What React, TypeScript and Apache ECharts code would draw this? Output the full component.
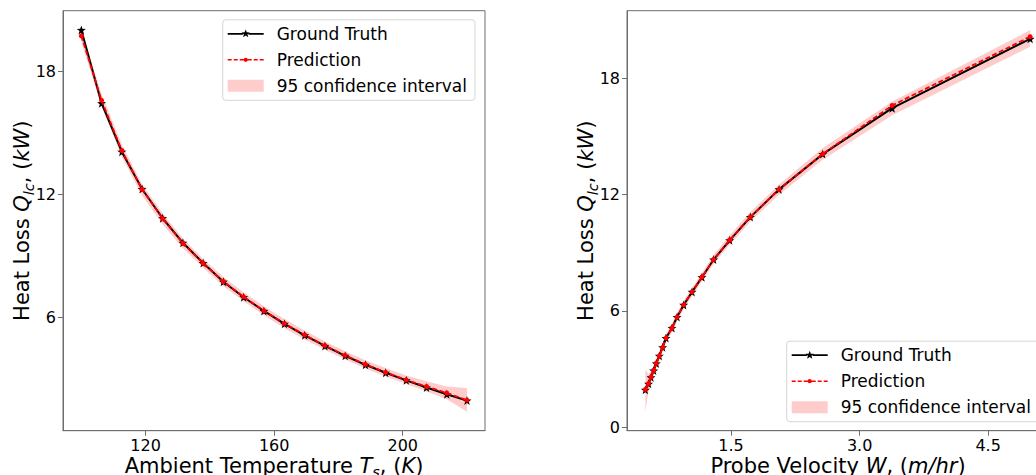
import React, { useEffect, useRef } from "react";
import * as echarts from "echarts";

// ---------- data ----------
const temperature = [100, 106.3, 112.6, 118.9, 125.3, 131.6, 137.9, 144.2, 150.5, 156.8, 163.2, 169.5, 175.8, 182.1, 188.4, 194.7, 201.1, 207.4, 213.7, 220];
const velocity = [4.99, 3.38, 2.57, 2.06, 1.725, 1.484, 1.297, 1.161, 1.045, 0.947, 0.87, 0.811, 0.741, 0.702, 0.663, 0.628, 0.597, 0.566, 0.538, 0.5];
const groundTruth = [20.04, 16.46, 14.09, 12.27, 10.84, 9.64, 8.65, 7.74, 6.98, 6.31, 5.68, 5.12, 4.6, 4.12, 3.68, 3.29, 2.92, 2.57, 2.24, 1.93];
const predLeft = [19.75, 16.6, 14.15, 12.25, 10.82, 9.62, 8.64, 7.75, 7.0, 6.32, 5.7, 5.14, 4.62, 4.14, 3.7, 3.31, 2.94, 2.62, 2.3, 1.95];
const lowerLeft = [19.45, 16.3, 13.85, 11.95, 10.55, 9.38, 8.42, 7.52, 6.78, 6.1, 5.47, 4.92, 4.42, 3.94, 3.5, 3.11, 2.74, 2.38, 2.0, 1.39];
const upperLeft = [20.05, 16.9, 14.45, 12.5, 11.08, 9.86, 8.86, 7.97, 7.22, 6.54, 5.92, 5.36, 4.82, 4.34, 3.9, 3.52, 3.16, 2.87, 2.62, 2.55];
const predRight = [20.15, 16.6, 14.1, 12.27, 10.85, 9.66, 8.66, 7.75, 6.98, 6.31, 5.68, 5.12, 4.6, 4.12, 3.68, 3.3, 2.94, 2.58, 2.26, 1.95];
const lowerRight = [19.63, 16.1, 13.8, 12.0, 10.6, 9.42, 8.44, 7.53, 6.76, 6.1, 5.47, 4.9, 4.38, 3.9, 3.45, 3.05, 2.68, 2.3, 1.85, 0.8];
const upperRight = [20.49, 16.8, 14.4, 12.52, 11.1, 9.9, 8.88, 7.97, 7.2, 6.52, 5.9, 5.34, 4.82, 4.34, 3.9, 3.52, 3.18, 2.85, 2.75, 2.96];

const leftXTicks = [120, 160, 200];
const rightXTicks = [1.5, 3.0, 4.5];
const leftYTicks = [6, 12, 18];
const rightYTicks = [0, 6, 12, 18];

const legendNames = ["Ground Truth", "Prediction", "95 confidence interval"];

const FONT = "DejaVu Sans";
const STAR = "path://M0,-10L2.35,-3.24L9.51,-3.09L3.8,1.24L5.88,8.09L0,4L-5.88,8.09L-3.8,1.24L-9.51,-3.09L-2.35,-3.24Z";
const AXIS_COLOR = "#6e6e6e";
const BAND = "rgba(255,0,0,0.2)";

// legend handle icons, drawn in a 36 x 12 box
const PIN = "M0,0h0.01v0.01h-0.01ZM35.99,11.99h0.01v0.01h-0.01Z";
const GT_ICON =
  "path://" + PIN +
  "M0,5.1H15.2V6.9H0ZM20.8,5.1H36V6.9H20.8Z" +
  "M18,1.6L19.1,4.5L22.2,4.6L19.8,6.5L20.6,9.5L18,7.8L15.4,9.5L16.2,6.5L13.8,4.6L16.9,4.5Z";
const PRED_ICON =
  "path://" + PIN +
  "M0,5.2H4V6.8H0ZM6,5.2H10V6.8H6ZM12,5.2H16V6.8H12ZM20,5.2H24V6.8H20ZM26,5.2H30V6.8H26ZM32,5.2H36V6.8H32Z" +
  "M15.9,6A2.1,2.1 0 1,0 20.1,6A2.1,2.1 0 1,0 15.9,6Z";

const nameRich = {
  n: { fontFamily: FONT, fontSize: 21, color: "#000", lineHeight: 28, verticalAlign: "middle" },
  i: { fontFamily: FONT, fontSize: 21, color: "#000", fontStyle: "italic", lineHeight: 28, verticalAlign: "middle" },
  s: { fontFamily: FONT, fontSize: 14.5, color: "#000", fontStyle: "italic", verticalAlign: "bottom", lineHeight: 14 },
};

function bandSeries(xs: number[], lo: number[], hi: number[], idx: number) {
  return {
    type: "custom",
    name: legendNames[2],
    xAxisIndex: idx,
    yAxisIndex: idx,
    z: 1,
    silent: true,
    itemStyle: { color: BAND },
    data: xs.map((x, i) => [x, lo[i], hi[i]]),
    encode: { x: 0, y: [1, 2] },
    renderItem: (params: any, api: any) => {
      if (params.dataIndex !== 0) return null;
      const pts: number[][] = [];
      for (let i = 0; i < xs.length; i++) pts.push(api.coord([xs[i], hi[i]]));
      for (let i = xs.length - 1; i >= 0; i--) pts.push(api.coord([xs[i], lo[i]]));
      return { type: "polygon", shape: { points: pts }, style: { fill: BAND } };
    },
  };
}

function gtSeries(xs: number[], idx: number) {
  return {
    type: "line",
    name: legendNames[0],
    xAxisIndex: idx,
    yAxisIndex: idx,
    z: 3,
    data: xs.map((x, i) => [x, groundTruth[i]]),
    symbol: STAR,
    symbolSize: 9,
    showSymbol: true,
    itemStyle: { color: "#000" },
    lineStyle: { color: "#000", width: 2 },
  };
}

function predSeries(xs: number[], ys: number[], idx: number) {
  return {
    type: "line",
    name: legendNames[1],
    xAxisIndex: idx,
    yAxisIndex: idx,
    z: 4,
    data: xs.map((x, i) => [x, ys[i]]),
    symbol: "circle",
    symbolSize: 5,
    showSymbol: true,
    itemStyle: { color: "#ff0000" },
    lineStyle: { color: "#ff0000", width: 1.8, type: [5, 2.5] },
  };
}

function xAxis(idx: number, min: number, max: number, ticks: number[], name: string, fmt: (v: number) => string) {
  return {
    type: "value",
    gridIndex: idx,
    min,
    max,
    name,
    nameLocation: "middle",
    nameGap: 21,
    nameMoveOverlap: false,
    nameTextStyle: { rich: nameRich },
    axisLine: { show: true, onZero: false, lineStyle: { color: AXIS_COLOR, width: 1 } },
    axisTick: { show: true, length: 5, inside: false, customValues: ticks, lineStyle: { color: AXIS_COLOR } },
    axisLabel: { show: true, customValues: ticks, formatter: fmt, fontFamily: FONT, fontSize: 16, lineHeight: 14, color: "#000", margin: 8 },
    splitLine: { show: false },
  };
}

function yAxis(idx: number, min: number, max: number, ticks: number[], name: string) {
  return {
    type: "value",
    gridIndex: idx,
    min,
    max,
    name,
    nameLocation: "middle",
    nameRotate: 90,
    nameGap: 27,
    nameMoveOverlap: false,
    nameTextStyle: { rich: nameRich },
    axisLine: { show: true, onZero: false, lineStyle: { color: AXIS_COLOR, width: 1 } },
    axisTick: { show: true, length: 5, inside: false, customValues: ticks, lineStyle: { color: AXIS_COLOR } },
    axisLabel: { show: true, customValues: ticks, formatter: (v: number) => String(v), fontFamily: FONT, fontSize: 16, color: "#000", margin: 7 },
    splitLine: { show: false },
  };
}

function legend(left: number, top: number) {
  return {
    show: true,
    orient: "vertical",
    left,
    top,
    itemWidth: 36,
    itemHeight: 12,
    itemGap: 9,
    padding: [5.5, 8, 6, 5],
    backgroundColor: "rgba(255,255,255,0.8)",
    borderColor: "#d6d6d6",
    borderWidth: 1,
    borderRadius: 3,
    selectedMode: false,
    textStyle: { fontFamily: FONT, fontSize: 17, color: "#000", padding: [0, 0, 0, 8] },
    data: [
      { name: legendNames[0], icon: GT_ICON, itemStyle: { color: "#000", borderWidth: 0 } },
      { name: legendNames[1], icon: PRED_ICON, itemStyle: { color: "#ff0000", borderWidth: 0 } },
      { name: legendNames[2], icon: "rect", itemStyle: { color: BAND, borderWidth: 0 } },
    ],
  };
}

export default function App() {
  const ref = useRef<HTMLDivElement>(null);
  useEffect(() => {
    if (!ref.current) return;
    const chart = echarts.init(ref.current, undefined, { renderer: "svg" });
    const yName = "{n|Heat Loss }{i|Q}{s|lc}{n|, (}{i|kW}{n|)}";
    chart.setOption({
      animation: false,
      backgroundColor: "#fff",
      grid: [
        { left: 63, top: 10.7, width: 422, height: 420, show: true, borderColor: AXIS_COLOR, borderWidth: 1, containLabel: false, outerBoundsMode: "none" },
        { left: 627, top: 10.7, width: 422, height: 420, show: true, borderColor: AXIS_COLOR, borderWidth: 1, containLabel: false, outerBoundsMode: "none" },
      ],
      xAxis: [
        xAxis(0, 94.3, 225.6, leftXTicks, "{n|Ambient Temperature }{i|T}{s|s}{n|, (}{i|K}{n|)}", (v: number) => String(v)),
        xAxis(1, 0.286, 5.21, rightXTicks, "{n|Probe Velocity }{i|W}{n|, (}{i|m/hr}{n|)}", (v: number) => v.toFixed(1)),
      ],
      yAxis: [
        yAxis(0, 0.46, 20.98, leftYTicks, yName),
        yAxis(1, -0.18, 21.49, rightYTicks, yName),
      ],
      legend: [legend(222.7, 19.8), legend(786.7, 341.2)],
      series: [
        bandSeries(temperature, lowerLeft, upperLeft, 0),
        gtSeries(temperature, 0),
        predSeries(temperature, predLeft, 0),
        bandSeries(velocity, lowerRight, upperRight, 1),
        gtSeries(velocity, 1),
        predSeries(velocity, predRight, 1),
      ],
    });
    return () => chart.dispose();
  }, []);
  return <div ref={ref} style={{ position: "fixed", left: 0, top: 0, width: 1036, height: 475, background: "#fff" }} />;
}
